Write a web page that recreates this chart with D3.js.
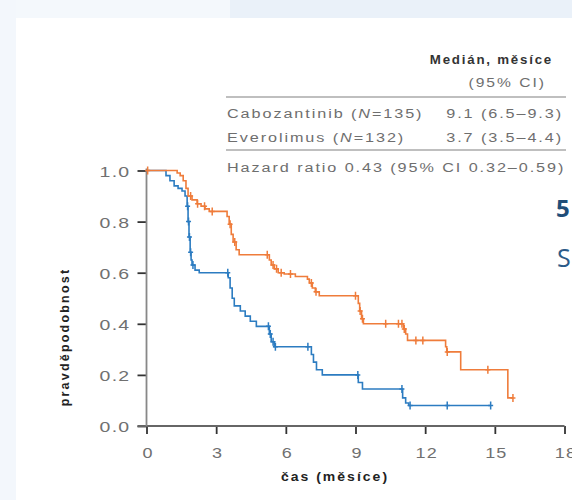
<!DOCTYPE html>
<html>
<head>
<meta charset="utf-8">
<script src="https://cdn.jsdelivr.net/npm/d3@7"></script>
<style>
  body { margin: 0; background: #fff; }
  svg { display: block; }
</style>
</head>
<body>
<script>
// Cabozantinib (orange) - step times (months) and survival after each step
const cabTime = [0, 1.32, 1.45, 1.58, 1.70, 1.79, 1.96, 2.18, 2.35, 2.52, 2.70, 3.47, 3.56, 3.65, 3.73, 3.86, 3.99,
  5.29, 5.37, 5.50, 5.67, 5.93, 6.41, 6.93, 7.01, 7.14, 7.27, 7.44, 9.12, 9.18, 9.26, 9.34,
  11.07, 11.16, 11.24, 12.88, 12.93, 13.53, 15.56];
const cabSurv = [1.0, 0.99, 0.98, 0.96, 0.93, 0.90, 0.885, 0.87, 0.86, 0.85, 0.84, 0.82, 0.79, 0.75, 0.72, 0.69, 0.67,
  0.65, 0.63, 0.615, 0.60, 0.595, 0.585, 0.575, 0.56, 0.54, 0.525, 0.51, 0.48, 0.45, 0.42, 0.40,
  0.38, 0.36, 0.335, 0.31, 0.29, 0.22, 0.11];
const cabEnd = 15.78;
const cabCensor = [0.05, 1.9, 2.2, 2.5, 2.83, 3.6, 3.8, 5.2, 5.45, 5.6, 5.8, 6.2, 7.1, 7.3, 9.0, 9.2, 9.3,
  10.3, 10.85, 11.0, 11.1, 11.6, 11.9, 12.95, 14.7, 15.78];

// Everolimus (blue)
const eveTime = [0, 0.84, 1.01, 1.19, 1.36, 1.53, 1.66, 1.75, 1.79, 1.83, 1.88, 1.92, 1.96, 2.09, 2.27,
  3.52, 3.60, 3.69, 3.78, 4.04, 4.25, 4.47, 4.73, 5.29, 5.37, 5.50, 7.10, 7.19, 7.32, 7.57,
  9.12, 9.30, 11.03, 11.16, 11.29];
const eveSurv = [1.0, 0.98, 0.96, 0.94, 0.93, 0.92, 0.90, 0.86, 0.80, 0.74, 0.68, 0.65, 0.63, 0.61, 0.60,
  0.58, 0.54, 0.50, 0.47, 0.45, 0.43, 0.41, 0.39, 0.36, 0.33, 0.31, 0.28, 0.25, 0.22, 0.20,
  0.17, 0.145, 0.11, 0.09, 0.08];
const eveEnd = 14.82;
const eveCensor = [1.77, 1.81, 1.85, 1.9, 2.0, 3.5, 5.25, 5.33, 5.45, 5.55, 6.95, 9.1, 11.0, 11.35, 12.95, 14.82];

const xTicks = [0, 3, 6, 9, 12, 15, 18];
const yTicks = [0, 0.2, 0.4, 0.6, 0.8, 1.0];

const tableHead = ["Medián, měsíce", "(95% CI)"];
const tableRows = [
  ["Cabozantinib (", "N", "=135)", "9.1 (6.5–9.3)"],
  ["Everolimus (", "N", "=132)", "3.7 (3.5–4.4)"]
];
const hazardText = "Hazard ratio 0.43 (95% CI 0.32–0.59)";

const width = 572, height = 500;
const orange = "#ef7c3b", blue = "#2c7cc1";
const stretch = 1.2; // the source text is drawn wide

const svg = d3.select("body").append("svg")
  .attr("width", width)
  .attr("height", height)
  .attr("font-family", "Liberation Sans, Arial, sans-serif");

// slide background
svg.append("rect").attr("width", width).attr("height", height).attr("fill", "#eaf1f9");
svg.append("rect").attr("width", 230).attr("height", 18).attr("fill", "#f4f8fc");
svg.append("rect").attr("width", 16).attr("height", height).attr("fill", "#f3f7fc");
svg.append("rect").attr("x", 16).attr("y", 18).attr("width", width - 16).attr("height", height - 18).attr("fill", "#fff");

const x = d3.scaleLinear().domain([0, 18]).range([146.5, 564.5]);
const y = d3.scaleLinear().domain([0, 1]).range([426, 170.5]);

// wide text helper: anchor point (px, py), stretched horizontally
function wideText(g, px, py, str, sx = stretch) {
  return g.append("text")
    .attr("transform", `translate(${px},${py}) scale(${sx},1)`)
    .text(str);
}

// axes
const xAxis = svg.append("g")
  .attr("transform", `translate(0,${y(0)})`)
  .call(d3.axisBottom(x).tickValues(xTicks).tickSize(8).tickSizeOuter(0).tickPadding(10));
const yAxis = svg.append("g")
  .attr("transform", `translate(${x(0)},0)`)
  .call(d3.axisLeft(y).tickValues(yTicks).tickFormat(d3.format(".1f")).tickSize(9).tickSizeOuter(0).tickPadding(7));

[xAxis, yAxis].forEach(g => {
  g.select(".domain").remove();
  g.selectAll(".tick line").attr("stroke", "#333").attr("stroke-width", 1.8);
  g.selectAll(".tick text")
    .attr("fill", "#707070")
    .attr("font-size", 15)
    .attr("letter-spacing", 1);
});
yAxis.selectAll(".tick text")
  .attr("x", null).attr("dy", null)
  .attr("transform", "translate(-16,5.5) scale(1.3,1)");
xAxis.selectAll(".tick text")
  .attr("y", null).attr("dy", null)
  .attr("transform", "translate(1,32) scale(1.2,1)");

svg.append("line")
  .attr("x1", x(0) - 9).attr("x2", x(18))
  .attr("y1", y(0)).attr("y2", y(0))
  .attr("stroke", "#666").attr("stroke-width", 1.8);
svg.append("line")
  .attr("x1", x(0)).attr("x2", x(0))
  .attr("y1", y(0)).attr("y2", y(1) - 2)
  .attr("stroke", "#888").attr("stroke-width", 1.8);

// axis titles
wideText(svg, 335, 481, "čas (měsíce)", 1.12)
  .attr("text-anchor", "middle")
  .attr("font-size", 12.5).attr("font-weight", "bold")
  .attr("letter-spacing", 1.8)
  .attr("fill", "#222");
svg.append("text")
  .attr("transform", "translate(69,337) rotate(-90)")
  .attr("text-anchor", "middle")
  .attr("font-size", 12.5).attr("font-weight", "bold")
  .attr("letter-spacing", 2.2)
  .attr("fill", "#222")
  .text("pravděpodobnost");

// curves
const line = d3.line().x(d => x(d[0])).y(d => y(d[1])).curve(d3.curveStepAfter);

function drawCurve(times, surv, end, censor, color) {
  const pts = times.map((t, i) => [t, surv[i]]);
  pts.push([end, surv[surv.length - 1]]);
  svg.append("path")
    .datum(pts)
    .attr("fill", "none")
    .attr("stroke", color)
    .attr("stroke-width", 1.6)
    .attr("d", line);
  const S = t => surv[Math.max(0, d3.bisectRight(times, t) - 1)];
  svg.append("g").selectAll("path")
    .data(censor)
    .join("path")
    .attr("d", t => `M${x(t)},${y(S(t)) - 4}V${y(S(t)) + 4}M${x(t) - 2.5},${y(S(t))}H${x(t) + 2.5}`)
    .attr("stroke", color)
    .attr("stroke-width", 1.5);
}
drawCurve(eveTime, eveSurv, eveEnd, eveCensor, blue);
drawCurve(cabTime, cabSurv, cabEnd, cabCensor, orange);

// median table
const tbl = svg.append("g").attr("fill", "#6e6e6e").attr("font-size", 13.5).attr("letter-spacing", 1.6);
wideText(tbl, 553, 64, tableHead[0], 1.11)
  .attr("text-anchor", "end")
  .attr("font-size", 12).attr("font-weight", "bold").attr("fill", "#333");
wideText(tbl, 546, 87, tableHead[1], 1.25)
  .attr("text-anchor", "end")
  .attr("font-size", 12.5);
tbl.append("line").attr("x1", 226).attr("x2", 566).attr("y1", 97).attr("y2", 97)
  .attr("stroke", "#aaa").attr("stroke-width", 1.5);
tableRows.forEach((r, i) => {
  const t = wideText(tbl, 227, 118 + i * 24, null);
  t.append("tspan").text(r[0]);
  t.append("tspan").attr("font-style", "italic").text(r[1]);
  t.append("tspan").text(r[2]);
  wideText(tbl, 563, 118 + i * 24, r[3]).attr("text-anchor", "end");
});
tbl.append("line").attr("x1", 226).attr("x2", 566).attr("y1", 150).attr("y2", 150)
  .attr("stroke", "#aaa").attr("stroke-width", 1.5);
wideText(tbl, 227, 172, hazardText);

// slide text cut at the right edge
svg.append("text")
  .attr("x", 556).attr("y", 217)
  .attr("font-family", "Open Sans, sans-serif")
  .attr("font-size", 24).attr("font-weight", "bold")
  .attr("fill", "#1f4e79")
  .text("5");
svg.append("text")
  .attr("x", 557).attr("y", 267)
  .attr("font-family", "Open Sans, sans-serif")
  .attr("font-size", 25)
  .attr("fill", "#2b5a88")
  .text("S");
</script>
</body>
</html>
